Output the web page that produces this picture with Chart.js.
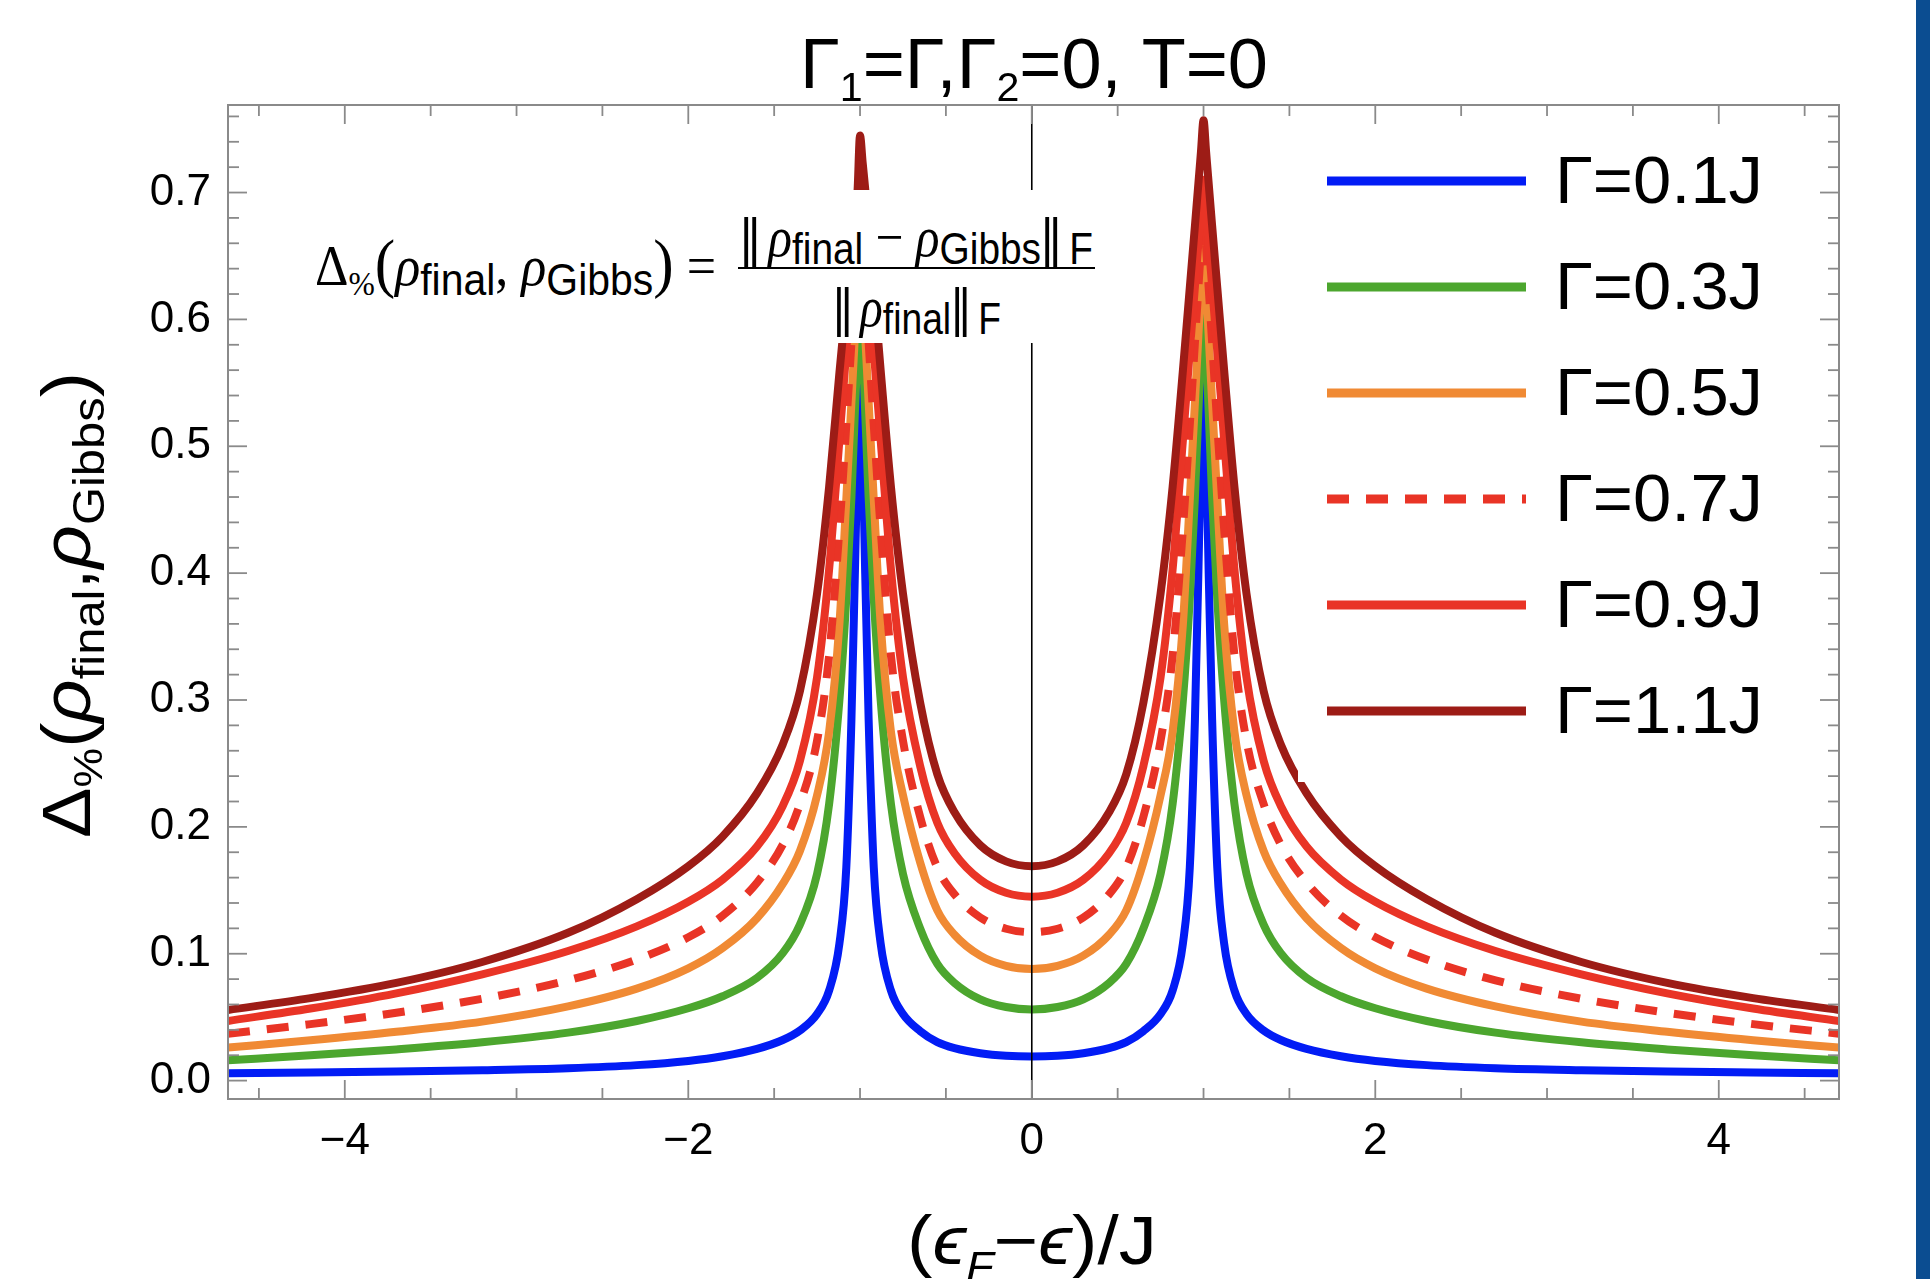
<!DOCTYPE html>
<html>
<head>
<meta charset="utf-8">
<script src="https://cdn.jsdelivr.net/npm/chart.js@4.4.1/dist/chart.umd.min.js"></script>
<style>
html,body{margin:0;padding:0;background:#fff;}
#wrap{position:relative;width:1930px;height:1279px;overflow:hidden;background:#fff;}
#c{position:absolute;left:0;top:0;}
.lbl{position:absolute;left:0;top:0;white-space:nowrap;transform-origin:0 0;color:#000;line-height:1;}
.mk{display:inline-block;width:0;height:0;}
.sb{position:relative;}
.bars{font-family:'Liberation Sans','DejaVu Sans',sans-serif;letter-spacing:-5px;font-size:54px;}
#fbox{position:absolute;left:300px;top:190px;width:805px;height:153px;background:#fff;}
#fbar{position:absolute;left:738px;top:267px;width:357px;height:2px;background:#000;}
.serif{font-family:'Liberation Serif','DejaVu Serif',serif;}
.sans{font-family:'Liberation Sans','DejaVu Sans',sans-serif;}
</style>
</head>
<body>
<div id="wrap">
<canvas id="c" width="1930" height="1279"></canvas>
<div id="fbox"></div>
<div id="fbar"></div>
<div class="lbl sans" id="title" style="font-size:70px">Γ<span class="sb" style="font-size:40px;top:13px">1</span>=Γ,Γ<span class="sb" style="font-size:40px;top:13px">2</span>=0, T=0<span class="mk"></span></div>
<div class="lbl sans" id="ylab" style="font-size:68px">Δ<span class="sb" style="font-size:40px;top:12px">%</span>(<i>ρ</i><span class="sb" style="font-size:44px;top:14px">final</span>,<i>ρ</i><span class="sb" style="font-size:44px;top:14px">Gibbs</span>)<span class="mk"></span></div>
<div class="lbl sans" id="xlab" style="font-size:68px">(<i>ϵ</i><span class="sb" style="font-size:40px;top:16px"><i>F</i></span>−<i>ϵ</i>)/J<span class="mk"></span></div>
<div class="lbl serif" id="fl" style="font-size:56px">Δ<span class="sb" style="font-size:34px;top:10px">%</span><span style="font-size:66px">(</span><i>ρ</i><span class="sb sans" style="font-size:44px;top:10px">final</span>, <i>ρ</i><span class="sb sans" style="font-size:44px;top:10px">Gibbs</span><span style="font-size:66px">)</span> =<span class="mk"></span></div>
<div class="lbl serif" id="fn" style="font-size:56px"><span class="bars">||</span> <i>ρ</i><span class="sb sans" style="font-size:44px;top:8px">final</span> − <i>ρ</i><span class="sb sans" style="font-size:44px;top:8px">Gibbs</span><span class="bars">||</span> <span class="sb sans" style="font-size:44px;top:8px">F</span><span class="mk"></span></div>
<div class="lbl serif" id="fd" style="font-size:56px"><span class="bars">||</span> <i>ρ</i><span class="sb sans" style="font-size:44px;top:8px">final</span><span class="bars">||</span> <span class="sb sans" style="font-size:44px;top:8px">F</span><span class="mk"></span></div>
</div>
<script>
// ---------------- data ----------------
const xValues = [-4.68,-4.2,-3.7,-3.2,-2.7,-2.3,-2.0,-1.8,-1.6,-1.45,-1.35,-1.25,-1.18,-1.12,-1.08,-1.05,-1.03,-1.015,-1.0,
  -0.985,-0.97,-0.95,-0.92,-0.88,-0.82,-0.75,-0.65,-0.55,-0.45,-0.3,-0.15,0,
  0.15,0.3,0.45,0.55,0.65,0.75,0.82,0.88,0.92,0.95,0.97,0.985,
  1.0,
  1.015,1.03,1.05,1.08,1.12,1.18,1.25,1.35,1.45,1.6,1.8,2.0,2.3,2.7,3.2,3.7,4.2,4.70];

const seriesLabels = ['Γ=0.1J','Γ=0.3J','Γ=0.5J','Γ=0.7J','Γ=0.9J','Γ=1.1J'];

const gamma01 = [0.0058,0.0064,0.0071,0.0082,0.0098,0.0122,0.0155,0.0192,0.025,0.032,0.0395,0.0525,0.071,0.108,0.168,0.285,0.40,0.49,0.59,
  0.50,0.40,0.285,0.168,0.108,0.071,0.0525,0.039,0.0303,0.0256,0.0216,0.0196,0.019,
  0.0196,0.0216,0.0256,0.0303,0.039,0.0525,0.071,0.108,0.168,0.285,0.40,0.50,
  0.60,
  0.50,0.40,0.285,0.168,0.108,0.071,0.0525,0.0395,0.032,0.025,0.0192,0.0155,0.0122,0.0098,0.0082,0.0071,0.0064,0.0058];

const gamma03 = [0.016,0.0199,0.0246,0.0302,0.0378,0.047,0.057,0.0665,0.081,0.1005,0.123,0.163,0.218,0.30,0.38,0.46,0.527,0.575,0.625,
  0.58,0.527,0.46,0.38,0.30,0.218,0.163,0.12,0.092,0.077,0.064,0.058,0.056,
  0.058,0.064,0.077,0.092,0.12,0.163,0.218,0.30,0.38,0.46,0.527,0.58,
  0.635,
  0.58,0.527,0.46,0.38,0.30,0.218,0.163,0.123,0.1005,0.081,0.0665,0.057,0.047,0.0378,0.0302,0.0246,0.0199,0.016];

const gamma05 = [0.026,0.0318,0.0385,0.0465,0.0585,0.0725,0.0885,0.1045,0.128,0.155,0.181,0.225,0.275,0.36,0.458,0.535,0.587,0.62,0.655,
  0.626,0.587,0.535,0.458,0.36,0.275,0.225,0.172,0.1342,0.115,0.0985,0.0905,0.088,
  0.0905,0.0985,0.115,0.1342,0.172,0.225,0.275,0.36,0.458,0.535,0.587,0.626,
  0.665,
  0.626,0.587,0.535,0.458,0.36,0.275,0.225,0.181,0.155,0.128,0.1045,0.0885,0.0725,0.0585,0.0465,0.0385,0.0318,0.026];

const gamma07 = [0.037,0.0445,0.0535,0.0645,0.079,0.0955,0.113,0.130,0.156,0.186,0.218,0.268,0.335,0.435,0.517,0.582,0.625,0.65,0.68,
  0.655,0.625,0.582,0.517,0.435,0.335,0.268,0.208,0.1679,0.1468,0.1286,0.1197,0.117,
  0.1197,0.1286,0.1468,0.1679,0.208,0.268,0.335,0.435,0.517,0.582,0.625,0.657,
  0.69,
  0.657,0.625,0.582,0.517,0.435,0.335,0.268,0.218,0.186,0.156,0.130,0.113,0.0955,0.079,0.0645,0.0535,0.0445,0.037];

const gamma09 = [0.047,0.0568,0.0688,0.0838,0.1022,0.1216,0.141,0.1585,0.1845,0.2165,0.252,0.318,0.403,0.505,0.575,0.626,0.66,0.675,0.70,
  0.68,0.66,0.626,0.575,0.505,0.403,0.318,0.248,0.2033,0.1792,0.1583,0.1481,0.145,
  0.1481,0.1583,0.1792,0.2033,0.248,0.318,0.403,0.505,0.575,0.626,0.66,0.685,
  0.71,
  0.685,0.66,0.626,0.575,0.505,0.403,0.318,0.252,0.2165,0.1845,0.1585,0.141,0.1216,0.1022,0.0838,0.0688,0.0568,0.047];

const gamma11 = [0.0557,0.065,0.077,0.0935,0.1165,0.143,0.169,0.1925,0.2265,0.265,0.307,0.384,0.468,0.558,0.615,0.655,0.68,0.70,0.745,
  0.724,0.703,0.672,0.625,0.560,0.468,0.384,0.298,0.2415,0.2115,0.1855,0.1728,0.169,
  0.1728,0.1855,0.2115,0.2415,0.298,0.384,0.468,0.560,0.625,0.674,0.707,0.732,
  0.757,
  0.732,0.707,0.674,0.625,0.560,0.468,0.384,0.307,0.265,0.2265,0.1925,0.169,0.143,0.1165,0.0935,0.077,0.065,0.0557];

const xMajorTicks = [-4,-2,0,2,4];
const xMinorTicks = [-4.5,-3.5,-3,-2.5,-1.5,-1,-0.5,0.5,1,1.5,2.5,3,3.5,4.5];
const yMajorTicks = [0,0.1,0.2,0.3,0.4,0.5,0.6,0.7];
const yMinorTicks = [0.02,0.04,0.06,0.08,0.12,0.14,0.16,0.18,0.22,0.24,0.26,0.28,0.32,0.34,0.36,0.38,
  0.42,0.44,0.46,0.48,0.52,0.54,0.56,0.58,0.62,0.64,0.66,0.68,0.72,0.74,0.76];

// ---------------- styles ----------------
const seriesColors = ['rgb(2,28,245)','rgb(76,166,46)','rgb(240,138,52)','rgb(233,52,38)','rgb(233,52,38)','rgb(157,28,22)'];
const seriesDashes = [[],[],[],[22,17],[],[]];
const seriesData = [gamma01,gamma03,gamma05,gamma07,gamma09,gamma11];

const datasets = seriesData.map((arr,i)=>({
  label: seriesLabels[i],
  data: xValues.map((x,j)=>({x:x,y:arr[j]})),
  borderColor: seriesColors[i],
  backgroundColor: seriesColors[i],
  borderWidth: 8,
  borderDash: seriesDashes[i],
  borderCapStyle: 'butt',
  borderJoinStyle: 'round',
  pointRadius: 0,
  cubicInterpolationMode: 'monotone',
  fill: false,
  order: 5 - i
}));

const decoPlugin = {
  id: 'deco',
  beforeDraw(chart){
    const ctx = chart.ctx;
    ctx.save();
    ctx.fillStyle = '#fff';
    ctx.fillRect(0,0,chart.width,chart.height);
    ctx.fillStyle = '#0b4d91';
    ctx.fillRect(1916,0,chart.width-1916,chart.height);
    ctx.restore();
  },
  afterDatasetsDraw(chart){
    const ctx = chart.ctx, a = chart.chartArea, xs = chart.scales.x, ys = chart.scales.y;
    ctx.save();
    const x0 = xs.getPixelForValue(0);
    ctx.strokeStyle = '#000'; ctx.lineWidth = 1.6;
    ctx.beginPath(); ctx.moveTo(x0,a.top); ctx.lineTo(x0,a.bottom); ctx.stroke();

    // legend
    ctx.fillStyle = '#fff';
    ctx.fillRect(1298,116,1815-1298,782-116);
    const lx0 = 1327, lx1 = 1526, ly0 = 181, ldy = 106, tx0 = 1555, tx1 = 1763;
    chart.data.datasets.forEach((ds,i)=>{
      const yy = ly0 + i*ldy;
      ctx.strokeStyle = ds.borderColor; ctx.lineWidth = 9; ctx.lineCap = 'butt';
      ctx.setLineDash(ds.borderDash||[]);
      ctx.beginPath(); ctx.moveTo(lx0,yy); ctx.lineTo(lx1,yy); ctx.stroke();
      ctx.setLineDash([]);
      ctx.font = "66px 'Liberation Sans'";
      ctx.fillStyle = '#000'; ctx.textBaseline = 'alphabetic'; ctx.textAlign = 'left';
      const w = ctx.measureText(ds.label).width;
      ctx.save();
      ctx.translate(tx0, yy + 22);
      ctx.scale((tx1-tx0)/w, 1);
      ctx.fillText(ds.label, 0, 0);
      ctx.restore();
    });

    // frame + inward ticks
    ctx.strokeStyle = '#8a8a8a'; ctx.lineWidth = 2;
    ctx.strokeRect(a.left, a.top, a.right-a.left, a.bottom-a.top);
    ctx.lineWidth = 1.8;
    const tick = (x1,y1,x2,y2)=>{ctx.beginPath();ctx.moveTo(x1,y1);ctx.lineTo(x2,y2);ctx.stroke();};
    xMajorTicks.forEach(v=>{const p=xs.getPixelForValue(v); tick(p,a.bottom,p,a.bottom-19); tick(p,a.top,p,a.top+19);});
    xMinorTicks.forEach(v=>{const p=xs.getPixelForValue(v); tick(p,a.bottom,p,a.bottom-11); tick(p,a.top,p,a.top+11);});
    yMajorTicks.forEach(v=>{const p=ys.getPixelForValue(v); tick(a.left,p,a.left+19,p); tick(a.right,p,a.right-19,p);});
    yMinorTicks.forEach(v=>{const p=ys.getPixelForValue(v); tick(a.left,p,a.left+11,p); tick(a.right,p,a.right-11,p);});
    ctx.restore();
  }
};

const tickFont = {family:"'Liberation Sans'", size:44};

new Chart(document.getElementById('c'), {
  type: 'line',
  data: { datasets: datasets },
  options: {
    responsive: false,
    animation: false,
    devicePixelRatio: 1,
    events: [],
    layout: { padding: { left: 0, top: 105, right: 91, bottom: 0 } },
    plugins: { legend: { display: false }, tooltip: { enabled: false }, title: { display: false } },
    scales: {
      x: {
        type: 'linear', min: -4.68, max: 4.70,
        grid: { display: false, drawTicks: false },
        border: { display: false },
        afterBuildTicks: s => { s.ticks = xMajorTicks.map(v => ({value: v})); },
        afterFit: s => { s.height = 180; },
        ticks: { autoSkip: false, maxRotation: 0, padding: 16, color: '#000', font: tickFont,
          callback: v => String(v).replace('-', '\u2212') }
      },
      y: {
        type: 'linear', min: -0.0145, max: 0.769,
        grid: { display: false, drawTicks: false },
        border: { display: false },
        afterBuildTicks: s => { s.ticks = yMajorTicks.map(v => ({value: v})); },
        afterFit: s => { s.width = 228; },
        ticks: { autoSkip: false, padding: 17, color: '#000', font: tickFont,
          callback: v => Number(v).toFixed(1) }
      }
    }
  },
  plugins: [decoPlugin]
});

// ---------------- text placement ----------------
function place(id, o){
  const el = document.getElementById(id);
  el.style.transform = 'none';
  const r = el.getBoundingClientRect();
  const m = el.querySelector('.mk').getBoundingClientRect();
  const B = m.top - r.top, W = r.width;
  if (o.rot) {
    const s = (o.y1 - o.y0) / W;
    el.style.transform = `translate(${o.bx - B}px, ${o.y1}px) rotate(-90deg) scaleX(${s})`;
  } else {
    const s = (o.x1 - o.x0) / W;
    el.style.transform = `translate(${o.x0}px, ${o.base - B}px) scaleX(${s})`;
  }
}
function layoutTexts(){
  place('title', {x0: 800, x1: 1268, base: 88});
  place('xlab', {x0: 907, x1: 1157, base: 1264});
  place('ylab', {rot: true, bx: 90, y0: 372, y1: 838});
  place('fl', {x0: 315, x1: 716, base: 285});
  place('fn', {x0: 740, x1: 1093, base: 256});
  place('fd', {x0: 833, x1: 1001, base: 326});
}
layoutTexts();
if (document.fonts && document.fonts.ready) document.fonts.ready.then(layoutTexts);
</script>
</body>
</html>
